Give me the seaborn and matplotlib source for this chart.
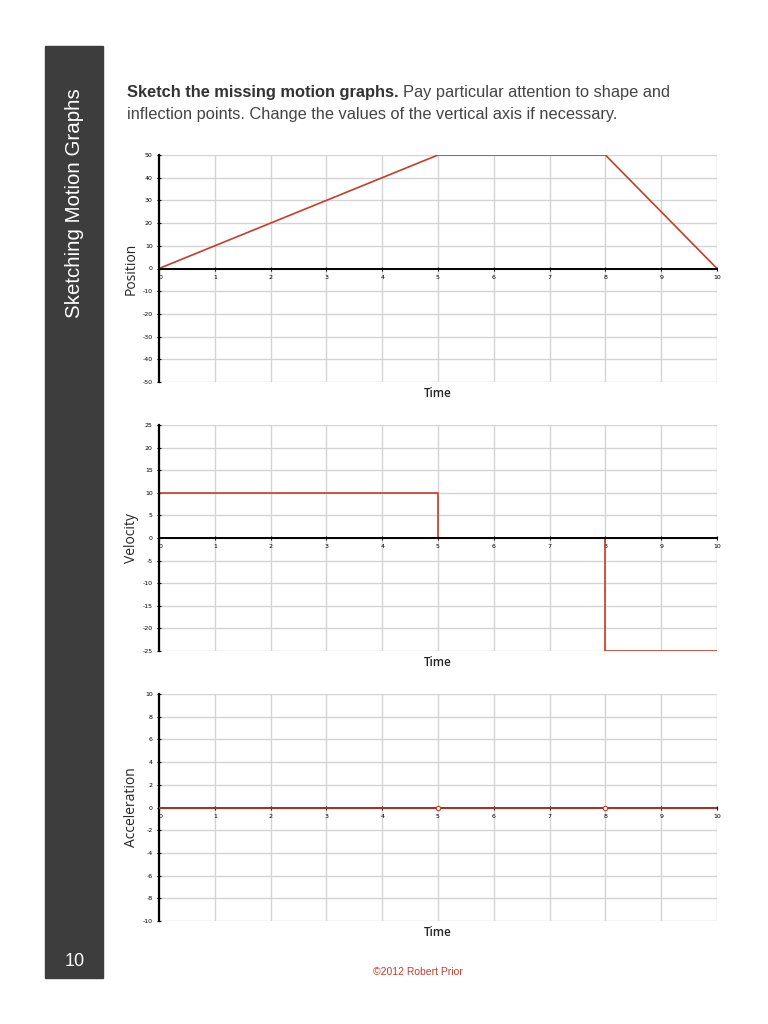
import numpy as np
import pandas as pd
import seaborn as sns
import matplotlib.pyplot as plt
from matplotlib.patches import Rectangle

## DATA
pos_time = [0, 5, 8, 10]
position = [0, 50, 50, 0]

vel_time = [0, 5, 5, 8, 8, 10]
velocity = [10, 10, 0, 0, -25, -25]

acc_time = [0, 10]
acceleration = [0, 0]
acc_open_time = [5, 8]
acc_open = [0, 0]

x_ticks = list(range(0, 11))
pos_ticks = list(range(-50, 51, 10))
vel_ticks = list(range(-25, 26, 5))
acc_ticks = list(range(-10, 11, 2))

RED = '#c63c2a'
GRID = '#d4d4d4'

sns.set_theme(style='white')
plt.rcParams['font.family'] = ['Liberation Sans', 'DejaVu Sans']
plt.rcParams['axes.unicode_minus'] = False

fig = plt.figure(figsize=(7.68, 10.24), dpi=100)

## SIDEBAR
fig.patches.append(Rectangle((45 / 768, 1 - 978 / 1024), 58 / 768, 932 / 1024,
                             transform=fig.transFigure, color='#3d3d3d', zorder=0))
fig.text(75 / 768, 1 - 203 / 1024, 'Sketching Motion Graphs', rotation=90,
         color='white', fontsize=14.8, ha='center', va='center')
fig.text(75 / 768, 1 - 962 / 1024, '10', color='white', fontsize=13,
         ha='center', va='center')

## TITLE
t1 = fig.text(127 / 768, 1 - 93 / 1024, 'Sketch the missing motion graphs.',
              fontsize=11.8, fontweight='bold', color='#333333', va='center')
fig.canvas.draw()
bb = t1.get_window_extent()
fig.text(bb.x1 / 768 + 4 / 768, 1 - 93 / 1024, 'Pay particular attention to shape and',
         fontsize=11.8, color='#444444', va='center')
fig.text(127 / 768, 1 - 115 / 1024,
         'inflection points. Change the values of the vertical axis if necessary.',
         fontsize=11.8, color='#444444', va='center')

fig.text(418 / 768, 1 - 972 / 1024, '\u00a92012 Robert Prior', color=RED,
         fontsize=7.5, ha='center', va='center')


def style_axis(ax, yticks, ylabel):
    ax.set_xlim(0, 10)
    ax.set_ylim(yticks[0], yticks[-1])
    ax.set_xticks(x_ticks)
    ax.set_yticks(yticks)
    ax.grid(True, color=GRID, linewidth=1)
    for s in ['top', 'right']:
        ax.spines[s].set_visible(False)
    ax.spines['left'].set_linewidth(1.6)
    ax.spines['left'].set_color('black')
    ax.spines['bottom'].set_position(('data', 0))
    ax.spines['bottom'].set_linewidth(1.4)
    ax.spines['bottom'].set_color('black')
    ax.tick_params(axis='both', which='both', labelsize=4.5, direction='inout',
                   length=3, width=0.8, colors='black', pad=3,
                   bottom=True, left=True)
    ax.tick_params(axis='y', pad=3)
    for lbl in ax.get_xticklabels():
        lbl.set_fontfamily('DejaVu Sans')
    for lbl in ax.get_yticklabels():
        lbl.set_fontfamily('DejaVu Sans')
    ax.get_xticklabels()[0].set_horizontalalignment('left')
    ax.set_xlabel('')
    ax.set_ylabel(ylabel, fontsize=10, family='Open Sans', fontweight='medium')
    ax.yaxis.set_label_coords(-0.036, 0.5)
    ax.text(5, -0.05, 'Time', transform=ax.get_xaxis_transform(), ha='center',
            va='center', fontsize=8.5, family='Open Sans', fontweight='semibold')


## POSITION
ax1 = fig.add_axes([159 / 768, 1 - 382 / 1024, 558 / 768, 227 / 1024])
sns.lineplot(x=pos_time, y=position, ax=ax1, color=RED, linewidth=1.2,
             estimator=None, sort=False)
style_axis(ax1, pos_ticks, 'Position')

## VELOCITY
ax2 = fig.add_axes([159 / 768, 1 - 651 / 1024, 558 / 768, 226 / 1024])
sns.lineplot(x=vel_time, y=velocity, ax=ax2, color=RED, linewidth=1.2,
             estimator=None, sort=False)
style_axis(ax2, vel_ticks, 'Velocity')

## ACCELERATION
ax3 = fig.add_axes([159 / 768, 1 - 921 / 1024, 558 / 768, 227 / 1024])
sns.lineplot(x=acc_time, y=acceleration, ax=ax3, color=RED, linewidth=1.2,
             estimator=None, sort=False, zorder=3)
sns.scatterplot(x=acc_open_time, y=acc_open, ax=ax3, s=10, facecolor='white',
                edgecolor=RED, linewidth=0.8, zorder=4)
style_axis(ax3, acc_ticks, 'Acceleration')

fig.savefig('out.png', dpi=100)
